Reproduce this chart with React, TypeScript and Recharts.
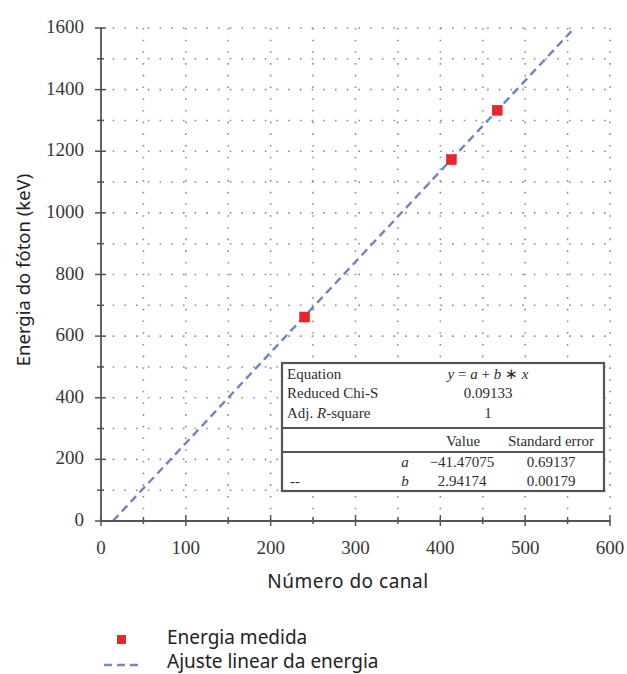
import { ComposedChart, Scatter, Line, XAxis, YAxis, CartesianGrid } from 'recharts';

// measured points (channel -> photon energy)
const canal = [240, 413, 467];
const energia = [662, 1173, 1333];

// fitted line end points
const ajusteCanal = [14, 558];
const ajusteEnergia = [0, 1600];

const xTicks = [0, 50, 100, 150, 200, 250, 300, 350, 400, 450, 500, 550, 600];
const yTicks = [0, 100, 200, 300, 400, 500, 600, 700, 800, 900, 1000, 1100, 1200, 1300, 1400, 1500, 1600];

// fit summary table
const fitRows = [
  { label: 'Equation', value: 'eq' },
  { label: 'Reduced Chi-S', value: '0.09133' },
  { label: 'Adj. R-square', value: '1' }
];
const paramNames = ['a', 'b'];
const paramValues = ['\u221241.47075', '2.94174'];
const paramErrors = ['0.69137', '0.00179'];

const legendItems = ['Energia medida', 'Ajuste linear da energia'];

const medidos = canal.map((x, i) => ({ x, y: energia[i] }));
const ajuste = ajusteCanal.map((x, i) => ({ x, y: ajusteEnergia[i] }));

const AXIS = '#555';
const SERIF = '"Liberation Serif", "Times New Roman", serif';
const SANS = '"Noto Sans", "Open Sans", sans-serif';
const TICK_TEXT = '#383838';

const BottomTick = ({ x, y, payload }: any) => {
  const major = payload.value % 100 === 0;
  return (
    <g>
      <line x1={x} x2={x} y1={y - (major ? 6 : 4)} y2={y + (major ? 5 : 3)} stroke={AXIS} strokeWidth={1.5} />
      {major && (
        <text x={x} y={y + 33} textAnchor="middle" fontFamily={SERIF} fontSize={19} fill={TICK_TEXT}>
          {payload.value}
        </text>
      )}
    </g>
  );
};

const LeftTick = ({ x, y, payload }: any) => {
  const major = payload.value % 200 === 0;
  return (
    <g>
      <line x1={x - (major ? 6 : 4)} x2={x + (major ? 5 : 3)} y1={y} y2={y} stroke={AXIS} strokeWidth={1.5} />
      {major && (
        <text x={x - 17} y={y + 5} textAnchor="end" fontFamily={SERIF} fontSize={19} fill={TICK_TEXT}>
          {payload.value}
        </text>
      )}
    </g>
  );
};

const TopTick = ({ x, y, payload }: any) => {
  const major = payload.value % 100 === 0;
  return <line x1={x} x2={x} y1={y} y2={y + (major ? 7 : 4)} stroke={AXIS} strokeWidth={1.5} />;
};

const RightTick = ({ x, y, payload }: any) => {
  const major = payload.value % 200 === 0;
  return <line x1={x - (major ? 6 : 4)} x2={x + (major ? 5 : 3)} y1={y} y2={y} stroke={AXIS} strokeWidth={1.5} />;
};

const Quadrado = ({ cx, cy }: any) => (
  <rect x={cx - 5} y={cy - 5} width={10} height={10} fill="#e8262b" stroke="#d01f24" strokeWidth={0.5} />
);

function TabelaAjuste() {
  const left = 282;
  const top = 363;
  const w = 322;
  const h = 128;
  const rowY = [379, 398, 418];
  const paramY = [467, 486];
  return (
    <g fontFamily={SERIF} fontSize={15} fill="#2e2e2e">
      <rect x={left} y={top} width={w} height={h} fill="#fff" stroke="#555" strokeWidth={2.2} />
      <line x1={left} x2={left + w} y1={428} y2={428} stroke="#555" strokeWidth={2} />
      <line x1={left} x2={left + w} y1={452} y2={452} stroke="#555" strokeWidth={2} />
      {fitRows.map((r, i) => (
        <g key={r.label}>
          <text x={287} y={rowY[i]}>
            {r.label === 'Adj. R-square' ? (
              <>
                Adj. <tspan fontStyle="italic">R</tspan>-square
              </>
            ) : (
              r.label
            )}
          </text>
          <text x={488} y={rowY[i]} textAnchor="middle">
            {r.value === 'eq' ? (
              <>
                <tspan fontStyle="italic">y</tspan> = <tspan fontStyle="italic">a</tspan> + <tspan fontStyle="italic">b</tspan> ∗ <tspan fontStyle="italic">x</tspan>
              </>
            ) : (
              r.value
            )}
          </text>
        </g>
      ))}
      <text x={463} y={446} textAnchor="middle">Value</text>
      <text x={551} y={446} textAnchor="middle">Standard error</text>
      <text x={290} y={486}>--</text>
      {paramNames.map((p, i) => (
        <g key={p}>
          <text x={405} y={paramY[i]} textAnchor="middle" fontStyle="italic">{p}</text>
          <text x={462} y={paramY[i]} textAnchor="middle">{paramValues[i]}</text>
          <text x={551} y={paramY[i]} textAnchor="middle">{paramErrors[i]}</text>
        </g>
      ))}
    </g>
  );
}

function Legenda() {
  return (
    <g fontFamily={SANS} fontSize={19} fill="#222">
      <rect x={117} y={635} width={9} height={9} fill="#e8262b" />
      <text x={167} y={644}>{legendItems[0]}</text>
      <line x1={104} x2={138} y1={665} y2={665} stroke="#7486cc" strokeWidth={2.5} strokeDasharray="8 5" />
      <text x={167} y={668}>{legendItems[1]}</text>
    </g>
  );
}

export default function App() {
  return (
    <div style={{ position: 'absolute', left: 0, top: 0, width: 627, height: 674, background: '#fff', overflow: 'hidden' }}>
      <ComposedChart width={627} height={674} margin={{ top: 28, right: 17, bottom: 0, left: 0 }}>
        <CartesianGrid stroke="#8c8c8c" strokeWidth={1.6} strokeDasharray="1.6 10.1" />
        <XAxis
          dataKey="x"
          type="number"
          domain={[0, 600]}
          ticks={xTicks}
          interval={0}
          height={153}
          tickSize={0}
          tickMargin={0}
          tickLine={false}
          tick={<BottomTick />}
          axisLine={{ stroke: AXIS, strokeWidth: 1.8 }}
          label={{
            content: () => (
              <text x={348} y={588} textAnchor="middle" fontFamily={SANS} fontSize={19} letterSpacing={0.5} fill="#222">
                Número do canal
              </text>
            )
          }}
        />
        <XAxis
          xAxisId="top"
          orientation="top"
          type="number"
          domain={[0, 600]}
          ticks={xTicks}
          interval={0}
          height={0}
          tickSize={0}
          tickMargin={0}
          tickLine={false}
          tick={<TopTick />}
          axisLine={{ stroke: AXIS, strokeWidth: 1.8 }}
        />
        <YAxis
          dataKey="y"
          type="number"
          domain={[0, 1600]}
          ticks={yTicks}
          interval={0}
          width={101}
          tickSize={0}
          tickMargin={0}
          tickLine={false}
          tick={<LeftTick />}
          axisLine={{ stroke: AXIS, strokeWidth: 1.8 }}
          label={{
            content: () => (
              <text
                x={22}
                y={270}
                transform="rotate(-90 22 270)"
                textAnchor="middle"
                dominantBaseline="central"
                fontFamily={SANS}
                fontSize={18.5}
                fill="#222"
              >
                Energia do fóton (keV)
              </text>
            )
          }}
        />
        <YAxis
          yAxisId="right"
          orientation="right"
          type="number"
          domain={[0, 1600]}
          ticks={yTicks}
          interval={0}
          width={0}
          tickSize={0}
          tickMargin={0}
          tickLine={false}
          tick={<RightTick />}
          axisLine={{ stroke: AXIS, strokeWidth: 1.8 }}
        />
        <Line
          data={ajuste}
          dataKey="y"
          type="linear"
          stroke="#6f82c9"
          strokeWidth={2.4}
          strokeDasharray="8 5"
          dot={false}
          activeDot={false}
          isAnimationActive={false}
          legendType="none"
        />
        <Scatter data={medidos} shape={<Quadrado />} isAnimationActive={false} />
      </ComposedChart>
      <svg
        width={627}
        height={674}
        style={{ position: 'absolute', left: 0, top: 0, pointerEvents: 'none' }}
      >
        <TabelaAjuste />
        <Legenda />
      </svg>
    </div>
  );
}
